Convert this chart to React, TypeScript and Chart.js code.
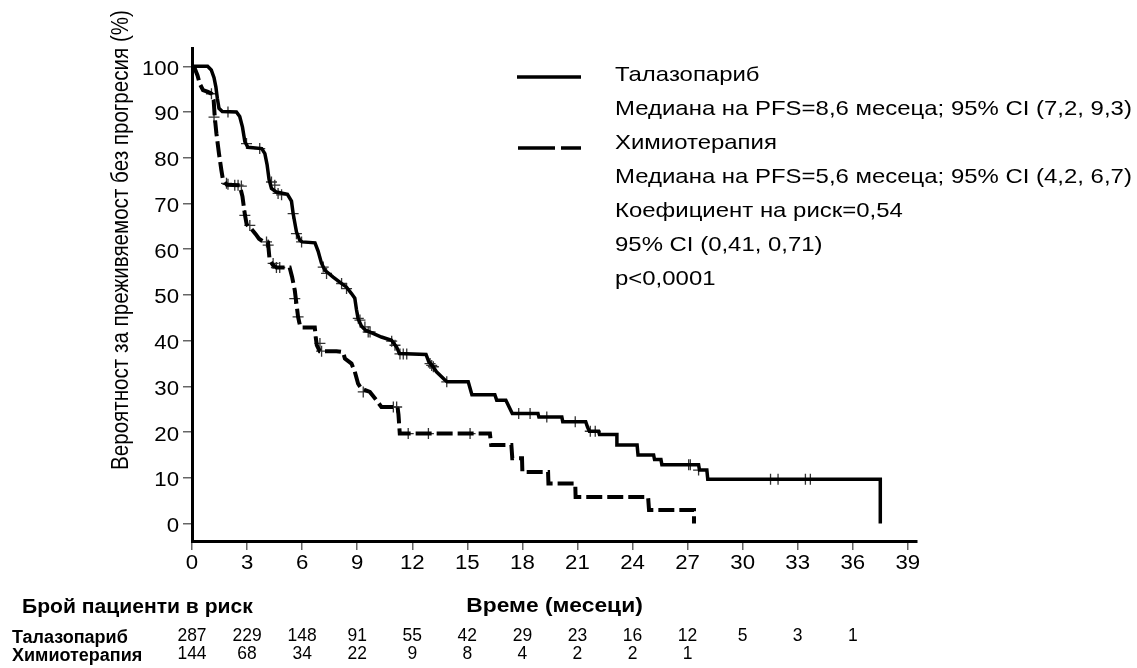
import React, { useEffect, useRef } from "react";
import { Chart, registerables } from "chart.js";

Chart.register(...registerables);

// ---- DATA ----
const seriesNames = ["Талазопариб", "Химиотерапия"];

// Talazoparib Kaplan–Meier curve vertices [months, %]
const talazoparibCurve: [number, number][] = [
  [0, 100], [0.85, 100], [1.05, 99.2], [1.2, 97.5], [1.3, 95.5], [1.38, 93], [1.47, 90.8],
  [1.65, 90.1], [2.42, 90], [2.6, 89], [2.75, 86.7], [2.88, 83.5], [3.05, 82.3], [3.8, 82],
  [3.97, 80.9], [4.09, 78.5], [4.2, 75.2], [4.33, 73.3], [4.6, 72.5], [5.2, 72], [5.42, 70.5],
  [5.51, 67.8], [5.69, 63.8], [5.87, 62], [6.0, 61.6], [6.7, 61.4], [6.87, 59.6], [7.05, 57],
  [7.24, 55.4], [7.69, 53.9], [8.05, 52.8], [8.42, 51.7], [8.69, 50.3], [8.87, 49.3], [8.96, 46.8],
  [9.05, 44.8], [9.23, 43.2], [9.45, 42.3], [9.86, 41.6], [10.32, 40.8], [10.87, 40.1], [11.15, 38.6],
  [11.3, 37.2], [12.75, 37.0], [12.9, 35.4], [13.14, 34.3], [13.32, 33.2], [13.78, 31.4], [13.9, 31.0],
  [15.05, 31.0], [15.25, 28.2], [16.5, 28.2], [16.6, 27.0], [17.1, 27.0], [17.45, 24.1], [18.85, 24.1],
  [18.9, 23.3], [20.15, 23.3], [20.2, 22.3], [21.45, 22.3], [21.55, 21.1], [21.65, 20.2], [22.15, 20.2],
  [22.2, 19.5], [23.15, 19.5], [23.15, 17.2], [24.25, 17.2], [24.3, 15.0], [25.15, 15.0], [25.2, 14.0],
  [25.55, 14.0], [25.6, 12.9], [27.6, 12.9], [27.65, 11.7], [28.05, 11.7], [28.1, 9.7], [37.5, 9.7],
  [37.5, 0],
];

// Chemotherapy Kaplan–Meier curve vertices [months, %]
const chemoCurve: [number, number][] = [
  [0, 100], [0.15, 99.5], [0.3, 98], [0.42, 96.2], [0.6, 94.8], [0.87, 94.4], [1.06, 94],
  [1.18, 92.6], [1.24, 88.9], [1.33, 85.3], [1.47, 80.9], [1.6, 77.3], [1.69, 75.1], [1.9, 74.1],
  [2.6, 74.0], [2.75, 71.5], [2.88, 67.6], [2.98, 65.4], [3.2, 64.6], [3.47, 63.3], [3.65, 62.3],
  [3.87, 61.7], [4.14, 61.5], [4.23, 57.6], [4.4, 56.6], [4.6, 56.0], [5.32, 56.0], [5.45, 54],
  [5.6, 51], [5.69, 48.1], [5.78, 45.2], [5.9, 43], [6.0, 42.9], [6.69, 42.9], [6.74, 40.8],
  [6.8, 39], [6.96, 37.7], [7.87, 37.7], [8.23, 37.5], [8.33, 36.1], [8.69, 35.0], [8.87, 33.2],
  [9.05, 30.6], [9.23, 29.5], [9.69, 28.8], [10.05, 27.0], [10.32, 25.5], [11.2, 25.5], [11.25, 23.8],
  [11.32, 19.7], [16.23, 19.7], [16.3, 17.2], [17.4, 17.2], [17.45, 14.3], [17.98, 14.3], [18.0, 11.3],
  [19.4, 11.3], [19.42, 8.8], [20.88, 8.8], [20.9, 5.8], [24.85, 5.8], [24.9, 3.0], [27.35, 3.0],
  [27.35, 0],
];

// Censoring marks [months, %]
const talazoparibCensored: [number, number][] = [
  [1.96, 90], [2.97, 83.1], [3.69, 82], [4.33, 74.7], [4.51, 74], [4.69, 72.2], [4.88, 71.9],
  [5.51, 67.8], [5.69, 63.4], [5.97, 61.6], [7.15, 56.1], [7.33, 54.7], [8.15, 52.5], [8.42, 51.4],
  [9.06, 44.9], [9.15, 44.5], [9.42, 43], [9.6, 41.9], [9.7, 41.9], [10.88, 39.9], [11.06, 39],
  [11.33, 37.1], [11.51, 37.1], [11.7, 37.1], [12.97, 35], [13.06, 34.6], [13.15, 34.3], [13.88, 31],
  [17.8, 24.1], [18.42, 24.1], [19.33, 23.3], [20.88, 22.3], [21.7, 20.2], [21.97, 20.2],
  [27.06, 12.9], [27.15, 12.9], [27.6, 11.7], [31.52, 9.7], [31.93, 9.7], [33.42, 9.7], [33.69, 9.7],
];
const chemoCensored: [number, number][] = [
  [1.06, 94], [1.2, 88.9], [1.88, 74.4], [1.96, 74.2], [2.33, 74], [2.51, 74], [2.69, 73.8],
  [2.88, 67.4], [3.15, 65.2], [4.06, 61.6], [4.15, 60.9], [4.42, 56.9], [4.6, 56], [4.78, 56],
  [5.6, 49.2], [5.78, 45.2], [6.97, 39.4], [7.06, 37.7], [9.33, 28.8], [10.97, 25.5], [11.15, 25.5],
  [11.78, 19.7], [12.88, 19.7], [15.15, 19.7],
];

const xTicks = [0, 3, 6, 9, 12, 15, 18, 21, 24, 27, 30, 33, 36, 39];
const yTicks = [0, 10, 20, 30, 40, 50, 60, 70, 80, 90, 100];

const riskTimes = [0, 3, 6, 9, 12, 15, 18, 21, 24, 27, 30, 33, 36];
const riskTalazoparib = [287, 229, 148, 91, 55, 42, 29, 23, 16, 12, 5, 3, 1];
const riskChemo = [144, 68, 34, 22, 9, 8, 4, 2, 2, 1];

const legendTexts = [
  "Талазопариб",
  "Медиана на PFS=8,6 месеца; 95% CI (7,2, 9,3)",
  "Химиотерапия",
  "Медиана на PFS=5,6 месеца; 95% CI (4,2, 6,7)",
  "Коефициент на риск=0,54",
  "95% CI (0,41, 0,71)",
  "p<0,0001",
];

const yTitle = "Вероятност за преживяемост без прогресия (%)";
const xTitle = "Време (месеци)";
const riskTitle = "Брой пациенти в риск";

const FONT = '"Liberation Sans", Arial, Helvetica, sans-serif';
const SX = 1.14; // horizontal stretch of the reference's lettering

const toXY = (arr: [number, number][]) => arr.map(([x, y]) => ({ x, y }));

function drawText(
  ctx: CanvasRenderingContext2D,
  text: string,
  x: number,
  y: number,
  align: CanvasTextAlign,
  sx: number
) {
  ctx.save();
  ctx.translate(x, y);
  ctx.scale(sx, 1);
  ctx.textAlign = align;
  ctx.textBaseline = "middle";
  ctx.fillText(text, 0, 0);
  ctx.restore();
}

const overlayPlugin = {
  id: "overlay",
  afterDraw(chart: any) {
    const ctx: CanvasRenderingContext2D = chart.ctx;
    const xs = chart.scales.x;
    const ys = chart.scales.y;
    ctx.save();
    ctx.fillStyle = "#000";
    ctx.strokeStyle = "#000";

    // Tick labels (positions from the chart's scales)
    ctx.font = `19.5px ${FONT}`;
    xTicks.forEach((v) => drawText(ctx, String(v), xs.getPixelForValue(v), 564, "center", SX));
    yTicks.forEach((v) => drawText(ctx, String(v), 179, ys.getPixelForValue(v) + 3, "right", SX));

    // Y axis title
    ctx.save();
    ctx.translate(122, 240);
    ctx.rotate(-Math.PI / 2);
    ctx.scale(1, SX);
    ctx.font = `20.6px ${FONT}`;
    ctx.textAlign = "center";
    ctx.textBaseline = "middle";
    ctx.fillText(yTitle, 0, 0);
    ctx.restore();

    // Legend samples
    ctx.lineWidth = 3.5;
    ctx.lineCap = "butt";
    ctx.setLineDash([]);
    ctx.beginPath();
    ctx.moveTo(517, 77);
    ctx.lineTo(581, 77);
    ctx.stroke();
    ctx.setLineDash([37, 6]);
    ctx.beginPath();
    ctx.moveTo(518, 148);
    ctx.lineTo(581, 148);
    ctx.stroke();
    ctx.setLineDash([]);

    // Legend texts
    ctx.font = `21px ${FONT}`;
    legendTexts.forEach((t, i) => drawText(ctx, t, 615, 75 + i * 34, "left", SX));

    // Risk table titles
    ctx.font = `bold 20px ${FONT}`;
    drawText(ctx, riskTitle, 22, 607, "left", 1.055);
    drawText(ctx, xTitle, (chart.chartArea.left + chart.chartArea.right) / 2, 606, "center", SX);

    // Row labels
    ctx.font = `bold 18px ${FONT}`;
    drawText(ctx, seriesNames[0], 12, 638, "left", 1.0);
    drawText(ctx, seriesNames[1], 12, 656, "left", 1.0);

    // Numbers at risk (narrow lettering)
    ctx.font = `19px ${FONT}`;
    const rows: [number[], number][] = [
      [riskTalazoparib, 636],
      [riskChemo, 654],
    ];
    rows.forEach(([vals, y]) => {
      vals.forEach((v, i) => {
        drawText(ctx, String(v), xs.getPixelForValue(riskTimes[i]), y, "center", 0.92);
      });
    });
    ctx.restore();
  },
};

export default function App() {
  const ref = useRef<HTMLCanvasElement | null>(null);

  useEffect(() => {
    document.body.style.margin = "0";
    const canvas = ref.current;
    if (!canvas) return;
    const chart = new Chart(canvas, {
      type: "scatter",
      data: {
        datasets: [
          {
            label: seriesNames[0],
            data: toXY(talazoparibCurve),
            showLine: true,
            borderColor: "#000",
            borderWidth: 3.5,
            pointRadius: 0,
            tension: 0,
            fill: false,
          },
          {
            label: seriesNames[1],
            data: toXY(chemoCurve),
            showLine: true,
            borderColor: "#000",
            borderWidth: 4,
            borderDash: [16, 5],
            pointRadius: 0,
            tension: 0,
            fill: false,
          },
          {
            label: "c1",
            data: toXY(talazoparibCensored),
            showLine: false,
            pointStyle: "cross",
            pointRadius: 5.5,
            borderWidth: 1.3,
            borderColor: "#333",
            backgroundColor: "#333",
          },
          {
            label: "c2",
            data: toXY(chemoCensored),
            showLine: false,
            pointStyle: "cross",
            pointRadius: 5.5,
            borderWidth: 1.3,
            borderColor: "#333",
            backgroundColor: "#333",
          },
        ],
      },
      options: {
        animation: false,
        responsive: false,
        devicePixelRatio: 1,
        layout: { padding: { left: 0, top: 48, right: 220, bottom: 0 } },
        plugins: {
          legend: { display: false },
          tooltip: { enabled: false },
          title: { display: false },
        },
        scales: {
          x: {
            type: "linear",
            min: 0,
            max: 39.5,
            afterBuildTicks: (s: any) => {
              s.ticks = xTicks.map((v) => ({ value: v }));
            },
            afterFit: (s: any) => {
              s.height = 127;
            },
            ticks: { display: false },
            grid: {
              drawOnChartArea: false,
              drawTicks: true,
              tickLength: 9,
              color: "#666",
              lineWidth: 1.5,
            },
            border: { display: true, color: "#000", width: 3 },
          },
          y: {
            type: "linear",
            min: -3.8,
            max: 104,
            afterBuildTicks: (s: any) => {
              s.ticks = yTicks.map((v) => ({ value: v }));
            },
            afterFit: (s: any) => {
              s.width = 192;
            },
            ticks: { display: false },
            grid: {
              drawOnChartArea: false,
              drawTicks: true,
              tickLength: 9,
              color: "#666",
              lineWidth: 1.5,
            },
            border: { display: true, color: "#000", width: 3 },
          },
        },
      },
      plugins: [overlayPlugin],
    });
    return () => chart.destroy();
  }, []);

  return (
    <div style={{ position: "fixed", left: 0, top: 0, width: 1137, height: 668, background: "#fff" }}>
      <canvas ref={ref} width={1137} height={668} style={{ width: 1137, height: 668, display: "block" }} />
    </div>
  );
}
